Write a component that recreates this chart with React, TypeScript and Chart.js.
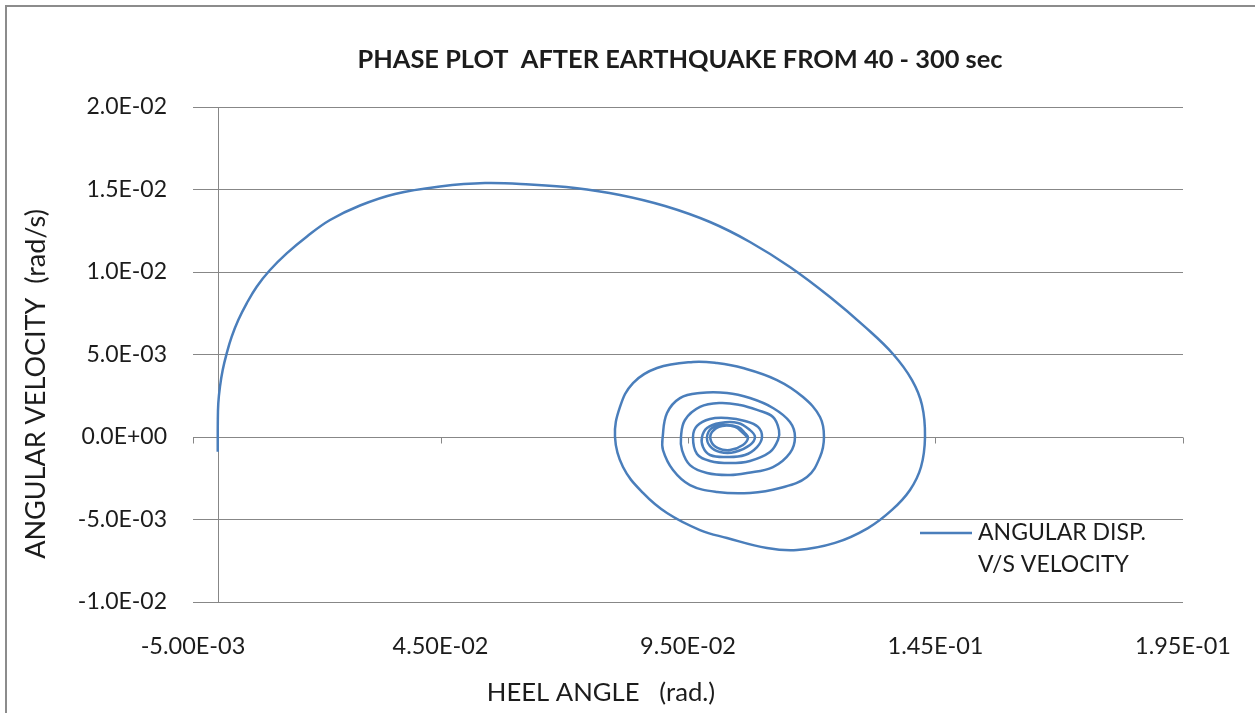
import { useEffect, useRef } from "react";
import { Chart, registerables } from "chart.js";

Chart.register(...registerables);

// Heel angle (rad) vs angular velocity (rad/s), 40 - 300 s after the earthquake
const heelAngle = [
  0.0, 0.00001, 0.00011, 0.00045, 0.001, 0.00181, 0.00282, 0.00415, 0.00585, 0.00787,
  0.01056, 0.01393, 0.01797, 0.02268, 0.02874, 0.03581, 0.0449, 0.05399, 0.06308, 0.07217,
  0.08126, 0.09035, 0.09944, 0.10752, 0.1156, 0.12368, 0.13076, 0.13641, 0.14025, 0.14227,
  0.14288, 0.14207, 0.13985, 0.13621, 0.13136, 0.1247, 0.11702, 0.11096, 0.10288, 0.09742,
  0.09076, 0.08591, 0.08187, 0.08025, 0.08126, 0.08389, 0.08874, 0.09601, 0.10086, 0.10611,
  0.11298, 0.11823, 0.12167, 0.12247, 0.12167, 0.11904, 0.11358, 0.10752, 0.10086, 0.0954,
  0.09197, 0.08995, 0.08989, 0.09076, 0.09338, 0.09742, 0.10288, 0.10752, 0.11217, 0.1156,
  0.11661, 0.1156, 0.11217, 0.10692, 0.10348, 0.09884, 0.0954, 0.09379, 0.09358, 0.09439,
  0.09742, 0.10147, 0.10551, 0.10894, 0.11217, 0.11338, 0.11318, 0.11156, 0.10752, 0.10348,
  0.09944, 0.09682, 0.09601, 0.09682, 0.09944, 0.10288, 0.10651, 0.10914, 0.10995, 0.10894,
  0.10651, 0.10288, 0.09944, 0.09803, 0.09783, 0.09884, 0.10147, 0.1051, 0.10752, 0.10853,
  0.10752, 0.10449, 0.10147, 0.09944, 0.09884, 0.09985, 0.10247, 0.1051, 0.10651, 0.10712,
  0.10611, 0.10348, 0.10106, 0.09964, 0.09985, 0.10187, 0.10449, 0.10611, 0.10712,
];

const angularVelocity = [
  -0.00089, 0.00083, 0.00204, 0.00305, 0.00406, 0.00507, 0.00608, 0.00709, 0.0081, 0.00911,
  0.01012, 0.01113, 0.01214, 0.01315, 0.01403, 0.01473, 0.01518, 0.01539, 0.0153, 0.01509,
  0.01467, 0.014, 0.01303, 0.01182, 0.0103, 0.00848, 0.00667, 0.00503, 0.00345, 0.00194,
  0.0, -0.00182, -0.00321, -0.00442, -0.00552, -0.00642, -0.00685, -0.00673, -0.00612, -0.00564,
  -0.00461, -0.00339, -0.00182, 0.0, 0.00182, 0.00327, 0.00418, 0.00455, 0.00448, 0.00418,
  0.00345, 0.00242, 0.00121, 0.0, -0.00121, -0.00242, -0.00309, -0.00339, -0.00333, -0.00291,
  -0.002, -0.00079, 0.0, 0.00145, 0.00236, 0.00267, 0.00267, 0.00236, 0.00176, 0.00091,
  0.0, -0.00097, -0.00182, -0.00218, -0.0023, -0.00218, -0.0017, -0.00079, 0.0, 0.00103,
  0.00182, 0.00206, 0.00194, 0.00164, 0.00121, 0.00042, -0.00018, -0.00091, -0.00145, -0.00158,
  -0.00145, -0.00103, 0.0, 0.00067, 0.00109, 0.00115, 0.00097, 0.00061, 0.0, -0.00061,
  -0.00109, -0.00121, -0.00109, -0.00061, 0.0, 0.00055, 0.00085, 0.00085, 0.00042, 0.0,
  -0.00048, -0.00091, -0.00091, -0.00055, 0.0, 0.00055, 0.00073, 0.00061, 0.00024, -0.00006,
  -0.00048, -0.00079, -0.00067, -0.00024, 0.0003, 0.00067, 0.00061, 0.00024, -0.00006,
];

const xTickValues = [-0.005, 0.045, 0.095, 0.145, 0.195];
const yTickValues = [-0.01, -0.005, 0, 0.005, 0.01, 0.015, 0.02];

const chartTitle = "PHASE PLOT  AFTER EARTHQUAKE FROM 40 - 300 sec";
const xAxisTitle = "HEEL ANGLE   (rad.)";
const yAxisTitle = "ANGULAR VELOCITY  (rad/s)";
const seriesLabelLines = ["ANGULAR DISP.", "V/S VELOCITY"];

const SERIES_COLOR = "#4a7ebb";
const AXIS_COLOR = "#878787";
const TEXT_COLOR = "#1c1c1c";
const FONT = "Lato";

// Excel-style scientific notation, e.g. 4.50E-02, 0.0E+00
function sci(v: number, digits: number): string {
  if (v === 0) return (0).toFixed(digits) + "E+00";
  let exp = Math.floor(Math.log10(Math.abs(v)));
  let mant = v / Math.pow(10, exp);
  if (Math.abs(Number(mant.toFixed(digits))) >= 10) {
    exp += 1;
    mant = v / Math.pow(10, exp);
  }
  const sign = exp < 0 ? "-" : "+";
  return mant.toFixed(digits) + "E" + sign + String(Math.abs(exp)).padStart(2, "0");
}

const decorations = {
  id: "phaseDecorations",
  beforeDatasetsDraw(chart: any) {
    const { ctx, chartArea, scales } = chart;
    const x0 = Math.round(scales.x.getPixelForValue(0)) + 0.5;
    const y0 = Math.round(scales.y.getPixelForValue(0)) + 0.5;
    ctx.save();
    ctx.strokeStyle = AXIS_COLOR;
    ctx.lineWidth = 1;
    ctx.beginPath();
    ctx.moveTo(x0, chartArea.top);
    ctx.lineTo(x0, chartArea.bottom);
    // tick marks below the horizontal axis
    for (const v of xTickValues) {
      const px = Math.round(scales.x.getPixelForValue(v)) + 0.5;
      ctx.moveTo(px, y0);
      ctx.lineTo(px, y0 + 6);
    }
    ctx.stroke();
    ctx.restore();
  },
  afterDraw(chart: any) {
    const { ctx } = chart;
    ctx.save();
    ctx.fillStyle = TEXT_COLOR;
    ctx.textBaseline = "middle";

    // title
    ctx.textAlign = "center";
    ctx.font = `bold 25.4px ${FONT}`;
    ctx.fillText(chartTitle, 680, 60);

    // x axis title
    ctx.font = `25.7px ${FONT}`;
    ctx.fillText(xAxisTitle, 601, 693);

    // y axis title
    ctx.save();
    ctx.translate(36, 384);
    ctx.rotate(-Math.PI / 2);
    ctx.font = `27px ${FONT}`;
    ctx.fillText(yAxisTitle, 0, 0);
    ctx.restore();

    // legend
    ctx.strokeStyle = SERIES_COLOR;
    ctx.lineWidth = 2.5;
    ctx.beginPath();
    ctx.moveTo(920, 533);
    ctx.lineTo(972, 533);
    ctx.stroke();
    ctx.textAlign = "left";
    ctx.font = `23px ${FONT}`;
    ctx.fillText(seriesLabelLines[0], 978, 533);
    ctx.fillText(seriesLabelLines[1], 978, 565);

    // outer frame
    ctx.strokeStyle = "#8c8c8c";
    ctx.lineWidth = 2;
    ctx.beginPath();
    ctx.moveTo(6, 720);
    ctx.lineTo(6, 6);
    ctx.lineTo(1262, 6);
    ctx.stroke();
    ctx.restore();
  },
};

export default function App() {
  const canvasRef = useRef<HTMLCanvasElement | null>(null);

  useEffect(() => {
    const canvas = canvasRef.current;
    if (!canvas) return;
    const points = heelAngle.map((x, i) => ({ x, y: angularVelocity[i] }));
    const chart = new Chart(canvas, {
      type: "scatter",
      data: {
        datasets: [
          {
            label: seriesLabelLines.join(" "),
            data: points,
            showLine: true,
            borderColor: SERIES_COLOR,
            backgroundColor: SERIES_COLOR,
            borderWidth: 2.5,
            pointRadius: 0,
            pointHoverRadius: 0,
            tension: 0.4,
            fill: false,
          },
        ],
      },
      options: {
        responsive: false,
        animation: false,
        devicePixelRatio: 1,
        layout: { padding: { top: 107, right: 72, bottom: 0, left: 0 } },
        plugins: {
          legend: { display: false },
          title: { display: false },
          tooltip: { enabled: false },
        },
        scales: {
          x: {
            type: "linear",
            min: -0.005,
            max: 0.195,
            afterBuildTicks: (scale: any) => {
              scale.ticks = xTickValues.map((value) => ({ value }));
            },
            afterFit: (scale: any) => {
              scale.height = 111;
            },
            grid: {
              display: true,
              drawOnChartArea: false,
              drawTicks: true,
              tickLength: 8,
              color: "rgba(0,0,0,0)",
            },
            border: { display: false },
            ticks: {
              padding: 22,
              color: TEXT_COLOR,
              font: { family: FONT, size: 23.5 },
              maxRotation: 0,
              autoSkip: false,
              callback: (v: any) => sci(Number(v), 2),
            },
          },
          y: {
            type: "linear",
            min: -0.01,
            max: 0.02,
            afterBuildTicks: (scale: any) => {
              scale.ticks = yTickValues.map((value) => ({ value }));
            },
            afterFit: (scale: any) => {
              scale.width = 193;
            },
            grid: { color: AXIS_COLOR, lineWidth: 1, drawTicks: false },
            border: { display: false },
            ticks: {
              padding: 26,
              color: TEXT_COLOR,
              font: { family: FONT, size: 23 },
              autoSkip: false,
              callback: (v: any) => sci(Number(v), 1),
            },
          },
        },
      },
      plugins: [decorations],
    });
    return () => chart.destroy();
  }, []);

  return (
    <div style={{ position: "absolute", left: 0, top: 0, width: 1255, height: 713, background: "#ffffff" }}>
      <canvas ref={canvasRef} width={1255} height={713} style={{ width: 1255, height: 713, display: "block" }} />
    </div>
  );
}
